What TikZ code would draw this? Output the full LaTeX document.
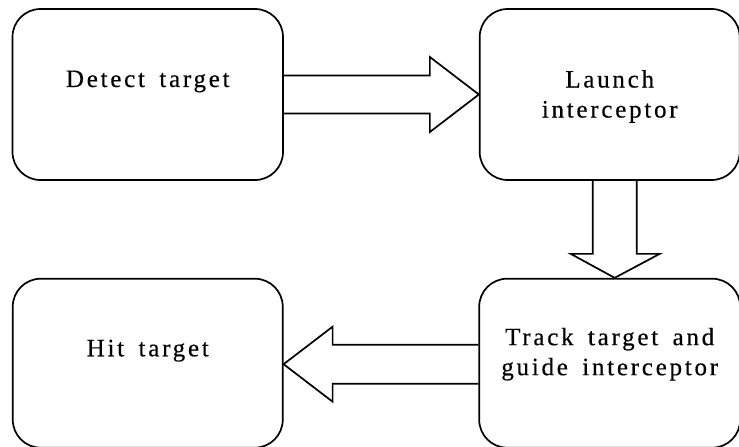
\documentclass[tikz,border=0pt]{standalone}
\usepackage{fontspec}
\setmainfont{Liberation Serif}
\newfontfamily\stepfont{Liberation Serif}[LetterSpace=11,FakeBold=0.4,WordSpace=1.6]
\usetikzlibrary{positioning}

\tikzset{
  stepbox/.style={draw, line width=1.7pt, rounded corners=28pt, inner sep=0pt, minimum height=171pt},
  lbl/.style={inner sep=0pt, align=center, font=\stepfont\fontsize{25}{30}\selectfont},
  blockarrow/.style={draw, line width=1.7pt, line join=miter}
}

\begin{document}
\begin{tikzpicture}
  \useasboundingbox (0,0) rectangle (739pt,-447pt);
  % the four steps
  \node[stepbox, minimum width=270.5pt] (detect) at (147.75pt,-94.5pt) {};
  \node[stepbox, minimum width=260pt, right=195pt of detect] (launch) {};
  \node[stepbox, minimum width=270pt, minimum height=169pt, below=97pt of detect] (hit) {};
  \node[stepbox, minimum width=261pt, minimum height=169pt, below=97pt of launch] (track) {};
  \node[lbl] (detect-txt) at ([yshift=13pt]detect.center) {Detect target};
  \node[lbl] (launch-txt) at ([yshift=-2pt]launch.center) {Launch\\interceptor};
  \node[lbl] (track-txt) at ([yshift=9pt]track.center) {Track target and\\guide interceptor};
  \node[lbl] (hit-txt) at ([yshift=12.5pt]hit.center) {Hit target};
  % hollow arrows
  \draw[blockarrow] ([yshift=19pt]detect.east) -- ([xshift=-49pt,yshift=19pt]launch.west)
    -- ([xshift=-49pt,yshift=37.5pt]launch.west) -- (launch.west)
    -- ([xshift=-49pt,yshift=-37.5pt]launch.west) -- ([xshift=-49pt,yshift=-19pt]launch.west)
    -- ([yshift=-19pt]detect.east);
  \draw[blockarrow] ([xshift=-17pt]launch.south) -- ([xshift=-17pt,yshift=24pt]track.north)
    -- ([xshift=-39pt,yshift=24pt]track.north) -- ([xshift=5pt]track.north)
    -- ([xshift=50pt,yshift=24pt]track.north) -- ([xshift=27pt,yshift=24pt]track.north)
    -- ([xshift=27pt]launch.south);
  \draw[blockarrow] ([yshift=18.5pt]track.west) -- ([xshift=49pt,yshift=18.5pt]hit.east)
    -- ([xshift=49pt,yshift=36.5pt]hit.east) -- ([yshift=-1pt]hit.east)
    -- ([xshift=49pt,yshift=-38.5pt]hit.east) -- ([xshift=49pt,yshift=-20.5pt]hit.east)
    -- ([yshift=-20.5pt]track.west);
\end{tikzpicture}
\end{document}
